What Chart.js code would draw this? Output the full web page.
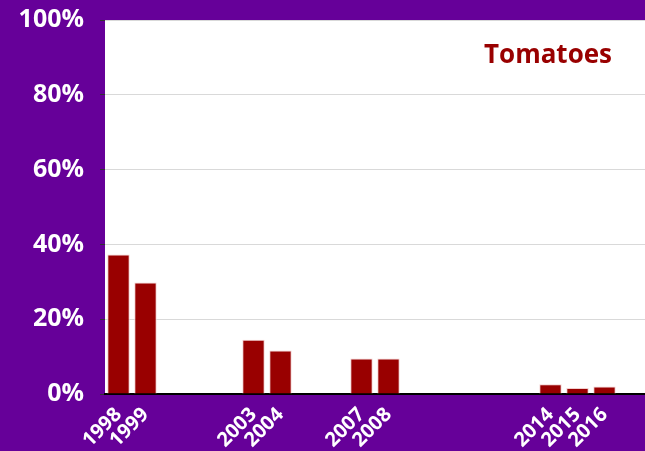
<!DOCTYPE html>
<html>
<head>
<meta charset="utf-8">
<script src="https://cdn.jsdelivr.net/npm/chart.js@4/dist/chart.umd.min.js"></script>
<style>
  html, body { margin: 0; padding: 0; background: #660099; }
  #wrap { width: 645px; height: 451px; position: relative; }
</style>
</head>
<body>
<div id="wrap"><canvas id="c"></canvas></div>
<script>
// Data
const years = ['1998','1999','2000','2001','2002','2003','2004','2005','2006','2007','2008','2009','2010','2011','2012','2013','2014','2015','2016','2017'];
const tomatoes = [37.3, 29.8, null, null, null, 14.5, 11.6, null, null, 9.5, 9.5, null, null, null, null, null, 2.6, 1.6, 2.0, null];
const yTicks = [0, 20, 40, 60, 80, 100];
const chartTitle = 'Tomatoes';

const bgPlugin = {
  id: 'bg',
  beforeDraw(chart) {
    const { ctx, chartArea: a } = chart;
    ctx.save();
    ctx.fillStyle = '#660099';
    ctx.fillRect(0, 0, chart.width, chart.height);
    ctx.fillStyle = '#ffffff';
    ctx.fillRect(a.left, a.top, a.right - a.left, a.bottom - a.top);
    ctx.restore();
  },
  afterDraw(chart) {
    const { ctx, chartArea: a } = chart;
    ctx.save();
    ctx.font = 'bold 26px "Open Sans"';
    ctx.fillStyle = '#990000';
    ctx.textAlign = 'center';
    ctx.textBaseline = 'alphabetic';
    ctx.fillText(chartTitle, a.right - 97, a.top + 43);
    ctx.restore();
  }
};

new Chart(document.getElementById('c'), {
  type: 'bar',
  data: {
    labels: years,
    datasets: [{
      label: chartTitle,
      data: tomatoes,
      backgroundColor: '#990000',
      borderColor: '#f2d0d0',
      borderWidth: 1,
      barPercentage: 0.83,
      categoryPercentage: 1
    }]
  },
  options: {
    responsive: true,
    maintainAspectRatio: false,
    animation: false,
    layout: { padding: { top: 20, right: 0, left: 0, bottom: 0 } },
    plugins: { legend: { display: false }, tooltip: { enabled: false } },
    scales: {
      x: {
        offset: true,
        grid: { display: false, drawTicks: false },
        border: { display: true, color: '#000000', width: 2 },
        ticks: {
          autoSkip: false,
          maxRotation: 45,
          minRotation: 45,
          padding: 9,
          color: '#ffffff',
          font: { family: '"Open Sans"', size: 20, weight: 'bold' },
          callback: function(v, i) { return tomatoes[i] === null ? '' : years[i]; }
        },
        afterFit(scale) { scale.height = 57; scale.paddingLeft = 0; scale.paddingRight = 0; }
      },
      y: {
        min: 0,
        max: 100,
        afterBuildTicks(scale) { scale.ticks = yTicks.map(v => ({ value: v })); },
        grid: { color: '#d9d9d9', lineWidth: 1, drawTicks: true, tickLength: 5, tickColor: '#333333' },
        border: { display: false },
        ticks: {
          padding: 16,
          color: '#ffffff',
          font: { family: '"Open Sans"', size: 25, weight: 'bold' },
          callback: v => v + '%'
        },
        afterFit(scale) { scale.width = 105; scale.paddingTop = 0; scale.paddingBottom = 0; }
      }
    }
  },
  plugins: [bgPlugin]
});
</script>
</body>
</html>
